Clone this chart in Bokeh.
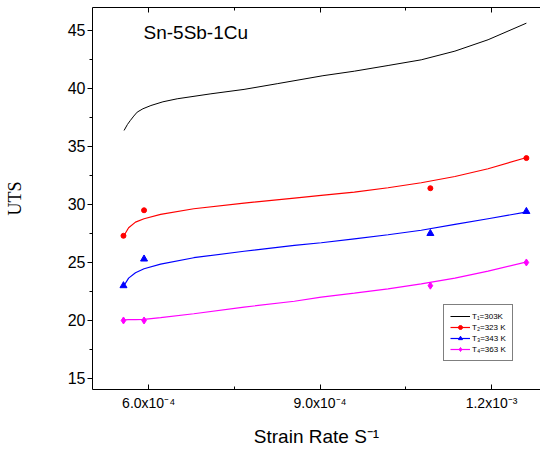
from bokeh.plotting import figure
from bokeh.models import Range1d, LinearAxis, FixedTicker, Legend, LegendItem, Label
from bokeh.embed import file_html
from bokeh.resources import INLINE

# measured data points (strain rate, UTS)
rate_pts = [5.56e-4, 5.92e-4, 1.093e-3, 1.261e-3]
uts_323 = [27.3, 29.5, 31.4, 34.0]
uts_343 = [23.0, 25.3, 27.5, 29.4]
uts_363 = [20.0, 20.0, 23.0, 25.0]

# fitted curves
fit_x = [5.57e-4, 5.65e-4, 5.77e-4, 5.92e-4, 6.21e-4, 6.79e-4, 7.67e-4, 8.55e-4,
         9.02e-4, 9.60e-4, 1.019e-3, 1.077e-3, 1.136e-3, 1.194e-3, 1.260e-3]
fit_323 = [27.33, 27.99, 28.48, 28.77, 29.14, 29.63, 30.12, 30.55,
           30.78, 31.06, 31.44, 31.87, 32.41, 33.08, 34.03]
fit_343 = [23.02, 23.65, 24.11, 24.46, 24.86, 25.41, 25.97, 26.47,
           26.70, 27.04, 27.39, 27.78, 28.28, 28.77, 29.34]
fit_363 = [20.06, 20.07, 20.08, 20.09, 20.25, 20.58, 21.15, 21.66,
           22.01, 22.35, 22.73, 23.16, 23.65, 24.25, 25.03]

curve_303_x = [5.57e-4, 5.63e-4, 5.68e-4, 5.74e-4, 5.80e-4, 5.90e-4, 6.04e-4, 6.25e-4,
               6.50e-4, 7.09e-4, 7.67e-4, 8.26e-4, 9.05e-4, 9.60e-4, 1.019e-3,
               1.077e-3, 1.136e-3, 1.194e-3, 1.261e-3]
curve_303_y = [36.38, 36.90, 37.24, 37.62, 37.96, 38.25, 38.53, 38.85,
               39.11, 39.54, 39.92, 40.42, 41.10, 41.49, 41.98,
               42.47, 43.22, 44.20, 45.63]

labels = ["T\u2081=303K", "T\u2082=323 K", "T\u2083=343 K", "T\u2084=363 K"]

x_ticks = [6e-4, 9e-4, 1.2e-3]
x_minor = [4.5e-4, 7.5e-4, 1.05e-3, 1.35e-3]
x_tick_labels = ["6.0x10\u207b\u2074", "9.0x10\u207b\u2074", "1.2x10\u207b\u00b3"]
y_ticks = [15, 20, 25, 30, 35, 40, 45]
y_minor = [12.5, 17.5, 22.5, 27.5, 32.5, 37.5, 42.5, 47.5]

p = figure(width=540, height=453, output_backend="svg", toolbar_location=None,
           x_range=Range1d(5.018e-4, 1.2857e-3), y_range=Range1d(14.05, 46.98),
           min_border_left=92, min_border_right=0, min_border_top=7, min_border_bottom=64)
p.outline_line_color = None
p.xgrid.visible = False
p.ygrid.visible = False
p.background_fill_color = "white"
p.border_fill_color = "white"

xt = FixedTicker(ticks=x_ticks, minor_ticks=x_minor)
yt = FixedTicker(ticks=y_ticks, minor_ticks=y_minor)

xa = p.xaxis[0]
xa.ticker = xt
xa.major_label_overrides = {v: s for v, s in zip(x_ticks, x_tick_labels)}
xa.major_tick_in = 5
xa.major_tick_out = 0
xa.minor_tick_in = 3
xa.minor_tick_out = 0
xa.major_label_text_font = "Liberation Sans"
xa.major_label_text_font_size = "14px"
xa.major_label_text_color = "black"
xa.major_label_standoff = 5
xa.axis_label = "Strain Rate S\u207b\u00b9"
xa.axis_label_text_font = "Liberation Sans"
xa.axis_label_text_font_style = "normal"
xa.axis_label_text_font_size = "19px"
xa.axis_label_text_color = "black"
xa.axis_label_standoff = 12
xa.axis_line_color = "black"

ya = p.yaxis[0]
ya.ticker = yt
ya.major_tick_in = 0
ya.major_tick_out = 5
ya.minor_tick_in = 0
ya.minor_tick_out = 3
ya.major_label_text_font = "Liberation Sans"
ya.major_label_text_font_size = "16px"
ya.major_label_text_color = "black"
ya.major_label_standoff = 2
ya.axis_label = "UTS"
ya.axis_label_text_font = "Liberation Serif"
ya.axis_label_text_font_style = "normal"
ya.axis_label_text_font_size = "18px"
ya.axis_label_text_color = "black"
ya.axis_label_standoff = 40
ya.axis_line_color = "black"

top = LinearAxis(ticker=FixedTicker(ticks=x_ticks, minor_ticks=x_minor),
                 major_tick_in=5, major_tick_out=0, minor_tick_in=3, minor_tick_out=0,
                 major_label_overrides={v: "" for v in x_ticks},
                 major_label_standoff=0, axis_line_color="black")
p.add_layout(top, "above")

l303 = p.line(curve_303_x, curve_303_y, line_color="black", line_width=1)
l323 = p.line(fit_x, fit_323, line_color="#FF0000", line_width=1.2)
l343 = p.line(fit_x, fit_343, line_color="#0000FF", line_width=1.2)
l363 = p.line(fit_x, fit_363, line_color="#FF00FF", line_width=1.2)
s323 = p.scatter(rate_pts, uts_323, marker="circle", size=5, color="#FF0000")
s343 = p.scatter(rate_pts, uts_343, marker="triangle", size=7, color="#0000FF")
s363 = p.scatter(rate_pts, uts_363, marker="diamond", size=7, color="#FF00FF")

p.add_layout(Label(x=51, y=347, x_units="screen", y_units="screen", text="Sn-5Sb-1Cu",
                   text_font="Liberation Sans", text_font_size="19px", text_color="black"))

legend = Legend(items=[LegendItem(label=labels[0], renderers=[l303]),
                       LegendItem(label=labels[1], renderers=[l323, s323]),
                       LegendItem(label=labels[2], renderers=[l343, s343]),
                       LegendItem(label=labels[3], renderers=[l363, s363])],
                location=(351, 28), border_line_color="black", border_line_width=1,
                background_fill_color="white", background_fill_alpha=1,
                label_text_font="Liberation Sans", label_text_font_size="8px",
                label_text_color="black",
                glyph_width=20, glyph_height=10, label_height=10, label_standoff=2,
                spacing=1, padding=6, margin=0)
p.add_layout(legend, "center")

open("out.html", "w").write(file_html(p, INLINE))
